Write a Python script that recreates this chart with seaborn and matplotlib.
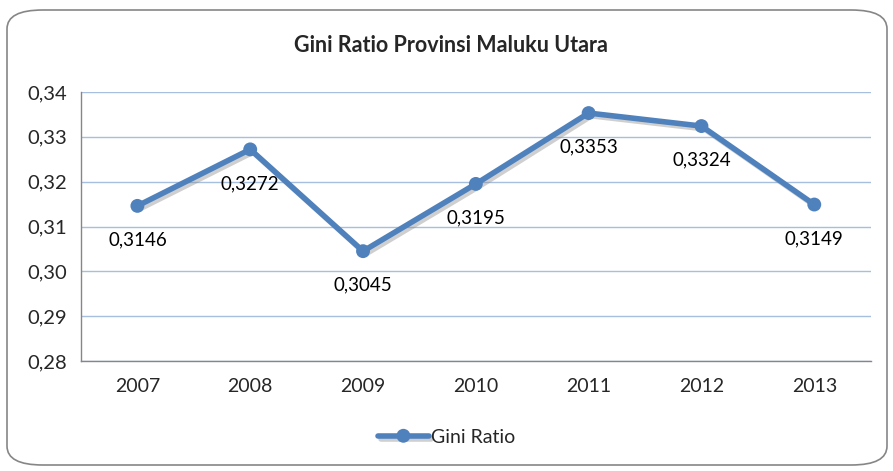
import numpy as np
import pandas as pd
import matplotlib
matplotlib.use("Agg")
import matplotlib.pyplot as plt
import matplotlib.patheffects as pe
from matplotlib.patches import FancyBboxPatch
import seaborn as sns

years = ["2007", "2008", "2009", "2010", "2011", "2012", "2013"]
gini = [0.3146, 0.3272, 0.3045, 0.3195, 0.3353, 0.3324, 0.3149]
series_name = "Gini Ratio"

df = pd.DataFrame({"year": years, "gini": gini, "series": series_name})

sns.set_style("white")
plt.rcParams["font.family"] = ["Lato", "DejaVu Sans"]

fig = plt.figure(figsize=(8.93, 4.71), dpi=100)
ax = fig.add_axes([0.0907, 0.2335, 0.8843, 0.5712])

line_color = "#4F81BD"
sns.lineplot(data=df, x="year", y="gini", hue="series", palette=[line_color],
             marker="o", markersize=10, linewidth=4, markeredgewidth=0,
             ax=ax, sort=False, legend=True)
for l in ax.lines:
    l.set_path_effects([pe.SimpleLineShadow(offset=(2, -2), shadow_color="#888888", alpha=0.4),
                        pe.Normal()])

ax.set_xlim(-0.5, len(years) - 0.5)
ax.set_ylim(0.28, 0.34)
yt = np.arange(0.28, 0.3401, 0.01)
ax.set_yticks(yt)
ax.set_yticklabels([f"{v:.2f}".replace(".", ",") for v in yt])
ax.set_xticks(range(len(years)))
ax.set_xticklabels(years)
ax.set_xticks(np.arange(-0.5, len(years), 1.0), minor=True)
ax.tick_params(axis="x", which="major", length=0, pad=12, labelsize=14)
ax.tick_params(axis="x", which="minor", length=5, color="#868686", direction="out")
ax.tick_params(axis="y", length=5, color="#868686", direction="out", labelsize=14.5, pad=5)
ax.set_xlabel("")
ax.set_ylabel("")
ax.grid(axis="y", color="#A7BFDE", linewidth=1)
ax.set_axisbelow(True)
for s in ["top", "right"]:
    ax.spines[s].set_visible(False)
for s in ["left", "bottom"]:
    ax.spines[s].set_color("#868686")
    ax.spines[s].set_linewidth(1)

for i, v in enumerate(gini):
    ax.annotate(f"{v:.4f}".replace(".", ","), (i, v), xytext=(0, -34),
                textcoords="offset pixels",
                ha="center", va="center", fontsize=13.5, color="black")

fig.text(0.505, 1 - 45 / 471, "Gini Ratio Provinsi Maluku Utara", fontsize=15.5,
         fontweight="bold", ha="center", va="center")

handles, labels = ax.get_legend_handles_labels()
fig.legend(handles, labels, loc="center", bbox_to_anchor=(0.5, 0.072),
           frameon=False, fontsize=14, handlelength=2.6, handletextpad=0.1)
if ax.get_legend() is not None:
    ax.get_legend().remove()

border = FancyBboxPatch((7 / 893, 6 / 471), 880 / 893, 455 / 471,
                        boxstyle="round,pad=0,rounding_size=0.04",
                        transform=fig.transFigure, fill=False,
                        edgecolor="#868686", linewidth=1.2)
fig.patches.append(border)

fig.savefig("out.png", dpi=100)
